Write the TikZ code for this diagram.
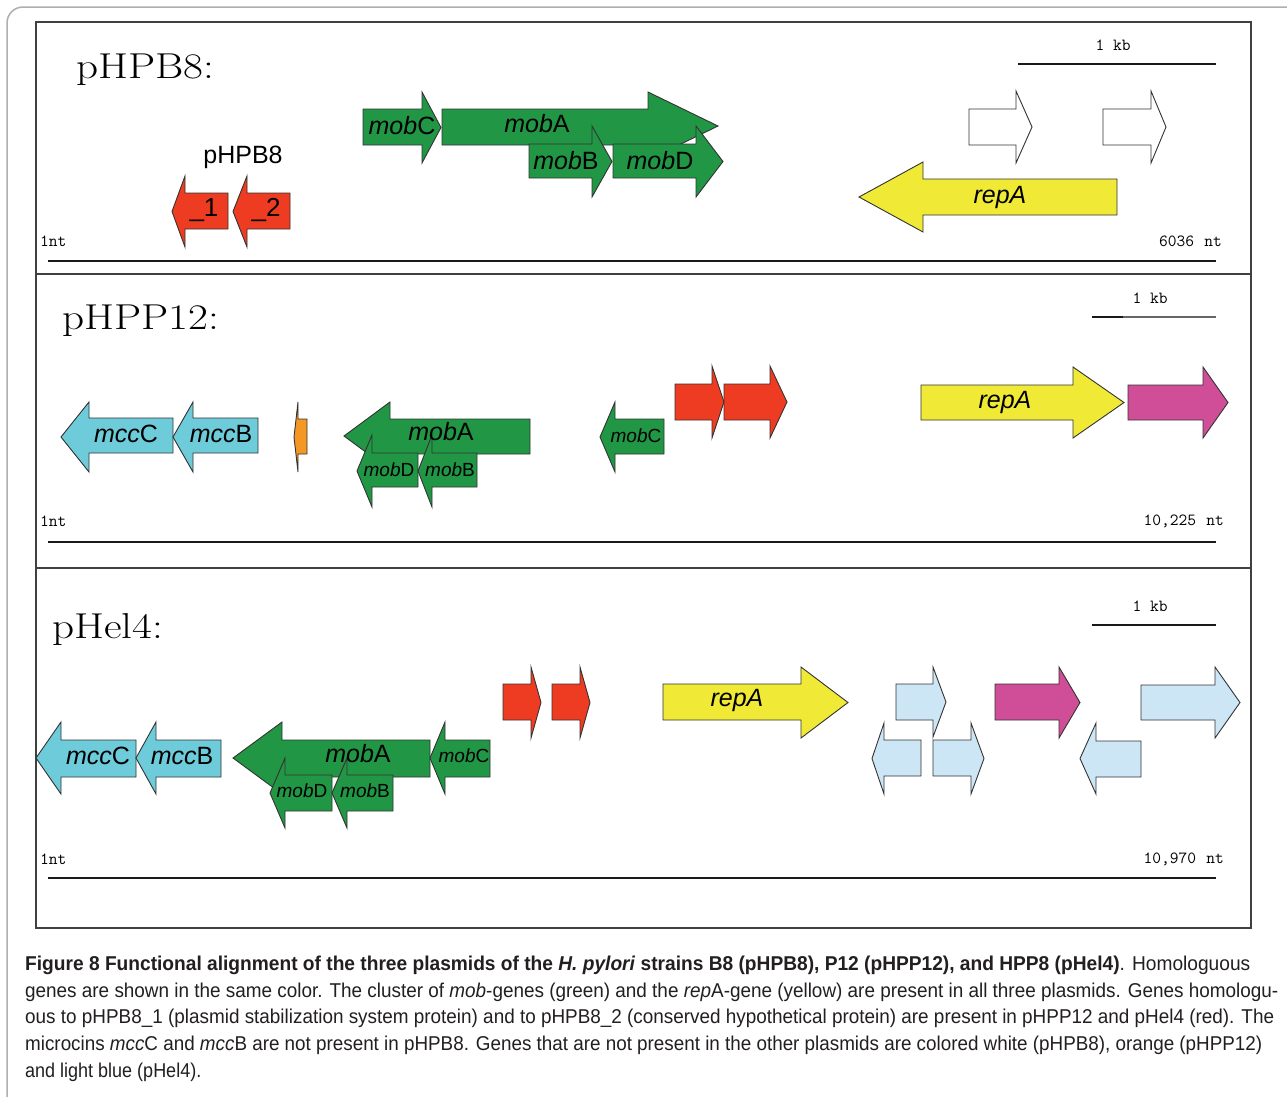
\documentclass[tikz,border=0pt]{standalone}
\usepackage{fontspec}
\usepackage{graphicx}
\newfontfamily\genefont{Liberation Sans}
\newfontfamily\capfont[FakeStretch=0.9]{Liberation Sans}
\definecolor{gGreen}{RGB}{33,150,69}
\definecolor{gRed}{RGB}{238,60,35}
\definecolor{gYellow}{RGB}{240,234,55}
\definecolor{gCyan}{RGB}{110,204,218}
\definecolor{gMag}{RGB}{208,78,152}
\definecolor{gLBlue}{RGB}{205,230,245}
\definecolor{gOrange}{RGB}{245,152,35}
\definecolor{frameGray}{RGB}{175,175,175}
\definecolor{capText}{RGB}{35,31,32}
\tikzset{
  gene/.style={draw=black!80, line width=0.9pt, line join=miter},
  glab/.style={font=\genefont\fontsize{25}{25}\selectfont, inner sep=0pt},
  glabs/.style={font=\genefont\fontsize{19}{19}\selectfont, inner sep=0pt},
  titletxt/.style={font=\fontsize{36}{36}\selectfont, inner sep=0pt, anchor=base west},
  mono/.style={font=\ttfamily\fontsize{17}{17}\selectfont, inner sep=0pt},
  axisline/.style={draw=black!90, line width=1.8pt},
  panel/.style={draw=black!75, line width=1.2pt},
  captxt/.style={font=\capfont\fontsize{20}{20}\selectfont, text=capText, inner sep=0pt, anchor=base west}
}
% right-pointing gene: bodyleft, headbase, tip, bodytop, bodybot, headtop, headbot, colour
\newcommand\gR[8]{\path[gene,fill=#8] (#1,#4) -- (#2,#4) -- (#2,#6) -- (#3,{(#6+#7)/2}) -- (#2,#7) -- (#2,#5) -- (#1,#5) -- cycle;}
% left-pointing gene: tip, headbase, bodyright, bodytop, bodybot, headtop, headbot, colour
\newcommand\gL[8]{\path[gene,fill=#8] (#1,{(#6+#7)/2}) -- (#2,#6) -- (#2,#4) -- (#3,#4) -- (#3,#5) -- (#2,#5) -- (#2,#7) -- cycle;}
\begin{document}
\begin{tikzpicture}[x=1pt,y=-1pt]
\useasboundingbox (0,0) rectangle (1287,1096);
\fill[white] (0,0) rectangle (1287,1096);
% outer frame
\draw[frameGray, line width=1.5pt, rounded corners=16pt] (7,1100) -- (7,7) -- (1292,7);
% panels
\draw[panel] (36,22) rectangle (1251,928);
\draw[panel] (36,274) -- (1251,274);
\draw[panel] (36,568) -- (1251,568);

% ---------------- panel 1 ----------------
\node[titletxt] (t1) at (76,78) {\scalebox{1.2}[1]{pHPB8:}};
\node[mono] (kb1) at (1113,45) {1 kb};
\draw[axisline] (1018,64) -- (1216,64);
\node[mono, anchor=west] (s1) at (40,241) {1nt};
\node[mono, anchor=east] (e1) at (1222,241) {6036\hspace{0.6em}nt};
\draw[axisline] (48,261) -- (1216,261);

\node[glab] (pb8) at (243,157) {pHPB8};
\gL{172}{185}{228}{193}{229}{176}{247}{gRed}
\gL{233}{247}{290}{193}{229}{176}{247}{gRed}
\node[glab, font=\genefont\fontsize{26}{26}\selectfont] (r1) at (204,210) {\_1};
\node[glab, font=\genefont\fontsize{26}{26}\selectfont] (r2) at (266,210) {\_2};

\gR{363}{422}{441}{109}{145}{92}{163}{gGreen}
\gR{442}{648}{718}{109}{145}{92}{160}{gGreen}
\gR{529}{592}{612}{144}{178}{126}{197}{gGreen}
\gR{613}{696}{723}{144}{178}{126}{197}{gGreen}
\node[glab] (m1c) at (402,126) {\textit{mob}C};
\node[glab] (m1a) at (537,124) {\textit{mob}A};
\node[glab] (m1b) at (566,161) {\textit{mob}B};
\node[glab] (m1d) at (660,161) {\textit{mob}D};

\gR{969}{1016}{1032}{109}{145}{91}{163}{white}
\gR{1103}{1151}{1166}{109}{145}{91}{163}{white}
\gL{859}{923}{1117}{179}{215}{162}{232}{gYellow}
\node[glab] (rep1) at (1000,197) {\textit{repA}};

% ---------------- panel 2 ----------------
\node[titletxt] (t2) at (62,329) {\scalebox{1.2}[1]{pHPP12:}};
\node[mono] (kb2) at (1150,298) {1 kb};
\draw[axisline] (1092,317) -- (1123,317);
\draw[draw=black!60, line width=1.2pt] (1123,317) -- (1216,317);
\node[mono, anchor=west] (s2) at (40,521) {1nt};
\node[mono, anchor=east] (e2) at (1224,521) {10,225\hspace{0.6em}nt};
\draw[axisline] (48,542) -- (1216,542);

\gL{61}{89}{173}{418}{453}{402}{472}{gCyan}
\gL{173}{193}{258}{418}{453}{402}{472}{gCyan}
\node[glab] (cc2) at (126,434) {\textit{mcc}C};
\node[glab] (cb2) at (221,434) {\textit{mcc}B};
\gL{294}{298}{307}{419}{454}{402}{472}{gOrange}
\gL{344}{390}{530}{419}{454}{402}{470}{gGreen}
\gL{357}{372}{418}{453}{487}{435}{507}{gGreen}
\gL{418}{432}{477}{453}{487}{435}{507}{gGreen}
\node[glab] (m2a) at (441,432) {\textit{mob}A};
\node[glabs] (m2d) at (389,470) {\textit{mob}D};
\node[glabs] (m2b) at (450,470) {\textit{mob}B};
\gL{600}{615}{664}{419}{454}{402}{472}{gGreen}
\node[glabs] (m2c) at (636,436) {\textit{mob}C};
\gR{675}{712}{724}{384}{420}{366}{438}{gRed}
\gR{724}{770}{787}{384}{420}{366}{438}{gRed}
\gR{921}{1073}{1124}{385}{420}{367}{438}{gYellow}
\node[glab] (rep2) at (1005,402) {\textit{repA}};
\gR{1128}{1203}{1228}{385}{420}{367}{438}{gMag}

% ---------------- panel 3 ----------------
\node[titletxt] (t3) at (52,638) {\scalebox{1.2}[1]{pHel4:}};
\node[mono] (kb3) at (1150,606) {1 kb};
\draw[axisline] (1092,625) -- (1216,625);
\node[mono, anchor=west] (s3) at (40,859) {1nt};
\node[mono, anchor=east] (e3) at (1224,859) {10,970\hspace{0.6em}nt};
\draw[axisline] (48,878) -- (1216,878);

\gL{36}{61}{136}{740}{777}{722}{794}{gCyan}
\gL{136}{156}{221}{740}{777}{722}{794}{gCyan}
\node[glab] (cc3) at (98,756) {\textit{mcc}C};
\node[glab] (cb3) at (182,756) {\textit{mcc}B};
\gL{233}{282}{430}{740}{777}{722}{794}{gGreen}
\gL{430}{445}{490}{740}{777}{722}{794}{gGreen}
\gL{270}{285}{332}{775}{811}{758}{828}{gGreen}
\gL{332}{347}{393}{775}{811}{758}{828}{gGreen}
\node[glab] (m3a) at (358,754) {\textit{mob}A};
\node[glabs] (m3c) at (464,756) {\textit{mob}C};
\node[glabs] (m3d) at (302,791) {\textit{mob}D};
\node[glabs] (m3b) at (365,791) {\textit{mob}B};
\gR{503}{531}{541}{684}{720}{667}{738}{gRed}
\gR{552}{580}{590}{684}{720}{667}{738}{gRed}
\gR{663}{801}{848}{684}{720}{667}{738}{gYellow}
\node[glab] (rep3) at (737,700) {\textit{repA}};
\gR{896}{933}{946}{684}{720}{667}{737}{gLBlue}
\gL{872}{884}{921}{740}{776}{723}{794}{gLBlue}
\gR{933}{971}{984}{740}{776}{723}{794}{gLBlue}
\gR{995}{1059}{1080}{684}{720}{667}{738}{gMag}
\gL{1080}{1096}{1141}{741}{777}{723}{794}{gLBlue}
\gR{1141}{1215}{1240}{685}{720}{667}{738}{gLBlue}

% ---------------- caption ----------------
\node[captxt] (c1) at (25,970) {\resizebox{1225pt}{\height}{\textbf{Figure 8 Functional alignment of the three plasmids of the \textit{H. pylori} strains B8 (pHPB8), P12 (pHPP12), and HPP8 (pHel4)}. Homologuous}};
\node[captxt] (c2) at (25,997) {\resizebox{1253pt}{\height}{genes are shown in the same color. The cluster of \textit{mob}-genes (green) and the \textit{rep}A-gene (yellow) are present in all three plasmids. Genes homologu-}};
\node[captxt] (c3) at (25,1023) {\resizebox{1249pt}{\height}{ous to pHPB8\_1 (plasmid stabilization system protein) and to pHPB8\_2 (conserved hypothetical protein) are present in pHPP12 and pHel4 (red). The}};
\node[captxt] (c4) at (25,1050) {\resizebox{1237pt}{\height}{microcins \textit{mcc}C and \textit{mcc}B are not present in pHPB8. Genes that are not present in the other plasmids are colored white (pHPB8), orange (pHPP12)}};
\node[captxt] (c5) at (25,1077) {and light blue (pHel4).};
\end{tikzpicture}
\end{document}
